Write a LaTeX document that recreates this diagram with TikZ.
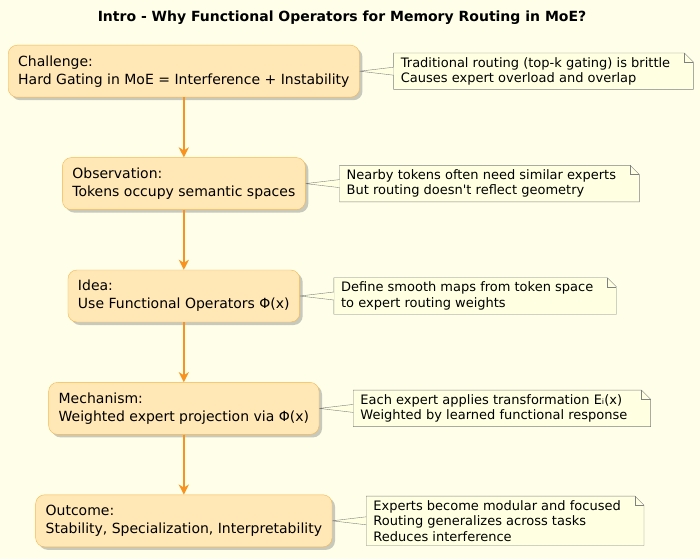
\documentclass[tikz,border=0pt]{standalone}
\usepackage{fontspec}
\setmainfont{DejaVu Sans}
\usetikzlibrary{arrows.meta,positioning,shadows,backgrounds}
\definecolor{paper}{HTML}{FEFEE9}
\definecolor{boxfill}{HTML}{FFE8B6}
\definecolor{boxline}{HTML}{F6B64A}
\definecolor{flowc}{HTML}{F7931E}
\definecolor{memofill}{HTML}{FFFFE1}
\definecolor{memoline}{HTML}{808080}
\tikzset{
  stepbox/.style={draw=boxline, fill=boxfill, rounded corners=9pt, align=left, font=\fontsize{14}{18}\selectfont,
    inner xsep=10pt, inner ysep=8pt, minimum height=52pt,
    drop shadow={shadow xshift=3pt, shadow yshift=-3pt, opacity=0.35, fill=black!60}},
  memo/.style={align=left, font=\fontsize{13}{15.5}\selectfont, inner xsep=7pt, inner ysep=4pt},
  flow/.style={-{Stealth[length=10pt, width=10pt, inset=3pt]}, flowc, line width=1.8pt},
}

\begin{document}
\begin{tikzpicture}[x=1pt, y=1pt, node distance=60pt and 34pt]
    \node[font=\bfseries\fontsize{14}{16}\selectfont] (title) at (342,-18) {Intro - Why Functional Operators for Memory Routing in MoE?};

    \node[stepbox, anchor=north west] (challenge) at (8,-45) {Challenge:\\Hard Gating in MoE = Interference + Instability};
    \node[stepbox, below=of challenge] (observation) {Observation:\\Tokens occupy semantic spaces};
    \node[stepbox, below=of observation] (idea) {Idea:\\Use Functional Operators Φ(x)};
    \node[stepbox, below=of idea] (mechanism) {Mechanism:\\Weighted expert projection via Φ(x)};
    \node[stepbox, below=of mechanism] (outcome) {Outcome:\\Stability, Specialization, Interpretability};

    \node[memo, right=of challenge] (challengenote) {Traditional routing (top-k gating) is brittle\\Causes expert overload and overlap};
    \node[memo, right=of observation] (observationnote) {Nearby tokens often need similar experts\\But routing doesn\textquotesingle t reflect geometry};
    \node[memo, right=of idea] (ideanote) {Define smooth maps from token space\\to expert routing weights};
    \node[memo, right=of mechanism] (mechanismnote) {Each expert applies transformation Eᵢ(x)\\Weighted by learned functional response};
    \node[memo, right=of outcome] (outcomenote) {Experts become modular and focused\\Routing generalizes across tasks\\Reduces interference};

    % note outlines with folded corner, and their wedge links
    \begin{pgfonlayer}{background}
      \fill[paper] (0,0) rectangle (700,-559);
      \foreach \s in {challenge, observation, idea, mechanism, outcome} {
        \draw[memoline, fill=memofill] (\s note.south west) -- (\s note.north west) -- ([xshift=7pt]\s note.north east)
          -- ([xshift=16pt, yshift=-9pt]\s note.north east) -- ([xshift=16pt]\s note.south east) -- cycle;
        \draw[memoline] ([xshift=7pt]\s note.north east) |- ([xshift=16pt, yshift=-9pt]\s note.north east);
        \fill[memofill] (\s.east) -- ([yshift=4pt]\s note.west) -- ([yshift=-4pt]\s note.west) -- cycle;
        \draw[memoline] ([yshift=4pt]\s note.west) -- (\s.east) -- ([yshift=-4pt]\s note.west);
      }
    \end{pgfonlayer}

    \draw[flow] (challenge) -- (observation);
    \draw[flow] (observation) -- (idea);
    \draw[flow] (idea) -- (mechanism);
    \draw[flow] (mechanism) -- (outcome);
\end{tikzpicture}
\end{document}
